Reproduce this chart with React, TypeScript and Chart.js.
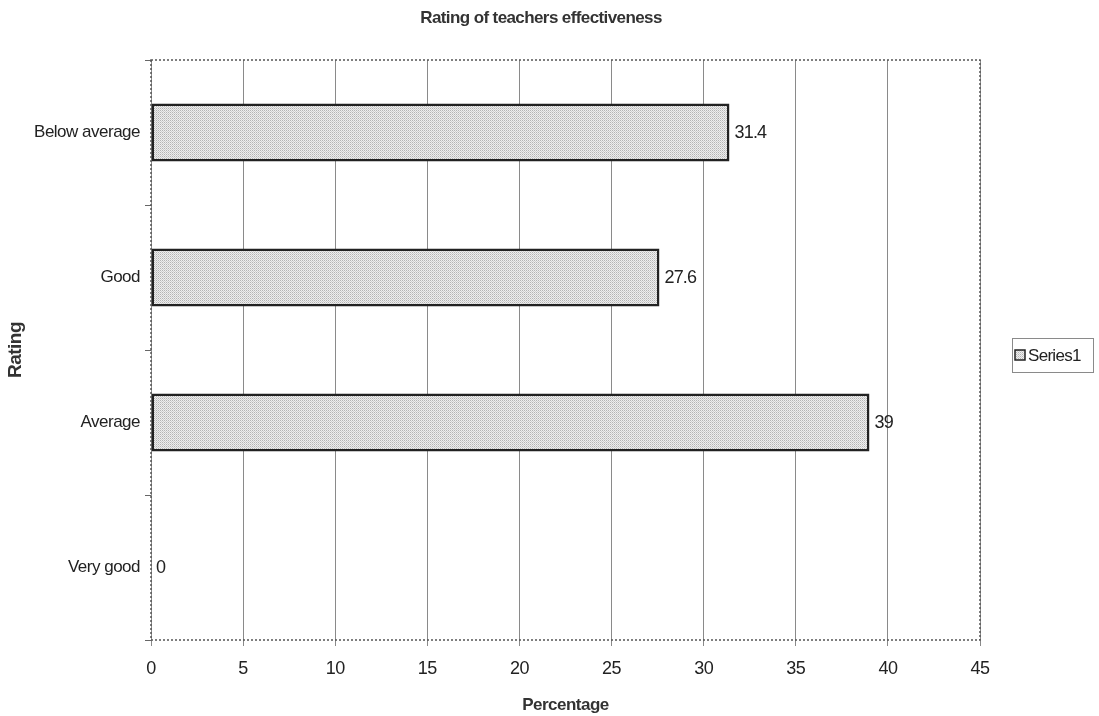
import { useEffect, useRef } from "react";
import { Chart, registerables } from "chart.js";

Chart.register(...registerables);

const categories: string[] = ["Below average", "Good", "Average", "Very good"];
const values: number[] = [31.4, 27.6, 39, 0];
const seriesName = "Series1";
const chartTitle = "Rating of teachers effectiveness";
const xAxisTitle = "Percentage";
const yAxisTitle = "Rating";
const xMin = 0;
const xMax = 45;
const xStep = 5;

const FONT = "'Liberation Sans', Arial, sans-serif";

function makePattern(): CanvasPattern | string {
  const c = document.createElement("canvas");
  c.width = 2;
  c.height = 2;
  const g = c.getContext("2d");
  if (!g) return "#d8d8d8";
  g.fillStyle = "#eeeeee";
  g.fillRect(0, 0, 2, 2);
  g.fillStyle = "#b4b4b4";
  g.fillRect(0, 0, 1, 1);
  g.fillStyle = "#cfcfcf";
  g.fillRect(1, 1, 1, 1);
  const p = g.createPattern(c, "repeat");
  return p || "#d8d8d8";
}

export default function App() {
  const ref = useRef<HTMLCanvasElement>(null);

  useEffect(() => {
    document.body.style.margin = "0";
    const canvas = ref.current;
    if (!canvas) return;
    const pattern = makePattern();

    const spacingPlugin = {
      id: "spacing",
      beforeLayout(chart: any) {
        (chart.ctx as any).letterSpacing = "-0.5px";
      },
      beforeDraw(chart: any) {
        (chart.ctx as any).letterSpacing = "-0.5px";
      },
    };

    const framePlugin = {
      id: "frame",
      afterDraw(chart: any) {
        const { ctx, chartArea: a } = chart;
        ctx.save();
        ctx.strokeStyle = "#555";
        ctx.lineWidth = 1.5;
        ctx.setLineDash([2, 2]);
        ctx.strokeRect(a.left, a.top, a.right - a.left, a.bottom - a.top);
        ctx.restore();
      },
    };

    const titlePlugin = {
      id: "customTitle",
      afterDraw(chart: any) {
        const { ctx } = chart;
        ctx.save();
        ctx.font = `bold 17px ${FONT}`;
        (ctx as any).letterSpacing = "-0.6px";
        ctx.fillStyle = "#333";
        ctx.textAlign = "center";
        ctx.textBaseline = "middle";
        ctx.fillText(chartTitle, 541, 18);
        ctx.restore();
      },
    };

    const labelPlugin = {
      id: "valueLabels",
      afterDatasetsDraw(chart: any) {
        const { ctx } = chart;
        const meta = chart.getDatasetMeta(0);
        const data = chart.data.datasets[0].data as number[];
        ctx.save();
        ctx.font = `18px ${FONT}`;
        ctx.fillStyle = "#222";
        ctx.textAlign = "left";
        ctx.textBaseline = "middle";
        (ctx as any).letterSpacing = "-0.8px";
        meta.data.forEach((bar: any, i: number) => {
          ctx.fillText(String(data[i]), bar.x + 5, bar.y + 1);
        });
        ctx.restore();
      },
    };

    const legendPlugin = {
      id: "boxLegend",
      afterDraw(chart: any) {
        const { ctx } = chart;
        const x = 1012;
        const y = 338;
        const w = 81;
        const h = 34;
        ctx.save();
        ctx.strokeStyle = "#8a8a8a";
        ctx.lineWidth = 1;
        ctx.strokeRect(x + 0.5, y + 0.5, w, h);
        ctx.fillStyle = pattern as any;
        ctx.fillRect(x + 3, y + 12, 10, 10);
        ctx.strokeStyle = "#222";
        ctx.lineWidth = 1.5;
        ctx.strokeRect(x + 3, y + 12, 10, 10);
        ctx.font = `17px ${FONT}`;
        ctx.fillStyle = "#222";
        ctx.textBaseline = "middle";
        (ctx as any).letterSpacing = "-0.7px";
        ctx.fillText(chart.data.datasets[0].label, x + 16, y + 18);
        ctx.restore();
      },
    };

    const chart = new Chart(canvas, {
      type: "bar",
      data: {
        labels: categories,
        datasets: [
          {
            label: seriesName,
            data: values,
            backgroundColor: pattern as any,
            borderColor: "#222",
            borderWidth: 2.5,
            borderSkipped: false,
            barPercentage: 0.4,
            categoryPercentage: 1,
          },
        ],
      },
      options: {
        indexAxis: "y",
        responsive: false,
        animation: false,
        layout: { padding: { left: 0, right: 119, top: 60, bottom: 0 } },
        plugins: {
          legend: { display: false },
          tooltip: { enabled: false },
          title: { display: false },
        },
        scales: {
          x: {
            type: "linear",
            min: xMin,
            max: xMax,
            ticks: {
              stepSize: xStep,
              color: "#222",
              font: { family: FONT, size: 18 },
              padding: 12,
            },
            grid: { color: "#8a8a8a", lineWidth: 1, tickLength: 6, drawTicks: true },
            border: { display: false },
            title: {
              display: true,
              text: xAxisTitle,
              color: "#333",
              font: { family: FONT, size: 17, weight: "bold" },
              padding: { top: 4, bottom: 0 },
            },
          },
          y: {
            type: "category",
            afterFit: (s: any) => {
              s.width = 151;
            },
            ticks: {
              color: "#222",
              font: { family: FONT, size: 17 },
              padding: 5,
            },
            grid: {
              offset: true,
              drawOnChartArea: false,
              drawTicks: true,
              tickLength: 6,
              color: "#666",
            },
            border: { display: false },
            title: {
              display: true,
              text: yAxisTitle,
              color: "#333",
              font: { family: FONT, size: 19, weight: "bold" },
              padding: { top: 4, bottom: 4 },
            },
          },
        },
      },
      plugins: [spacingPlugin, framePlugin, labelPlugin, titlePlugin, legendPlugin],
    });

    return () => chart.destroy();
  }, []);

  return (
    <div style={{ position: "absolute", left: 0, top: 0, width: 1099, height: 716 }}>
      <canvas ref={ref} width={1099} height={716} style={{ display: "block" }} />
    </div>
  );
}
